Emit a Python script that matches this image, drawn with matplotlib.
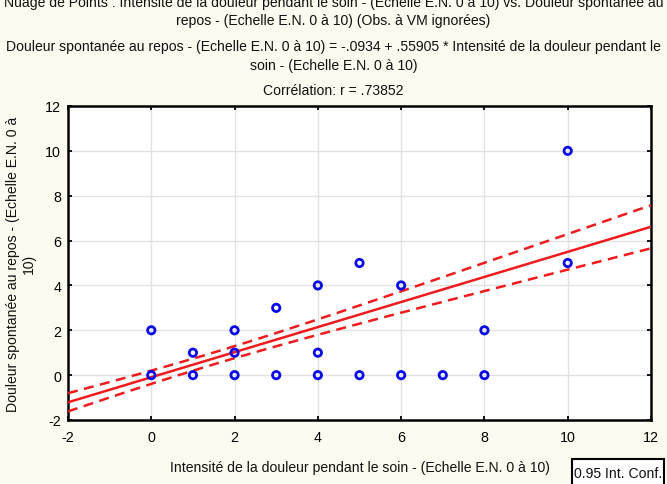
import numpy as np
import matplotlib
matplotlib.use("Agg")
import matplotlib.pyplot as plt
from matplotlib.patches import Rectangle

# ---- data ----
x_vals = [0, 0, 1, 1, 2, 2, 2, 3, 3, 4, 4, 4, 5, 5, 6, 6, 7, 8, 8, 10, 10]
y_vals = [2, 0, 1, 0, 2, 1, 0, 3, 0, 4, 1, 0, 5, 0, 4, 0, 0, 2, 0, 10, 5]

intercept = -0.0934
slope = 0.55905
# summary statistics for the 95% confidence band (estimated)
n_obs = 140
mean_x = 1.5
sxx = 1262.0
s_resid = 1.58
t_crit = 1.977

x_ticks = [-2, 0, 2, 4, 6, 8, 10, 12]
y_ticks = [-2, 0, 2, 4, 6, 8, 10, 12]

title_lines = [
    "Nuage de Points : Intensité de la douleur pendant le soin - (Echelle E.N. 0 à 10) vs. Douleur spontanée au",
    "repos - (Echelle E.N. 0 à 10) (Obs. à VM ignorées)",
    "Douleur spontanée au repos - (Echelle E.N. 0 à 10) = -.0934 + .55905 * Intensité de la douleur pendant le",
    "soin - (Echelle E.N. 0 à 10)",
    "Corrélation: r = .73852",
]
x_label = "Intensité de la douleur pendant le soin - (Echelle E.N. 0 à 10)"
y_label = "Douleur spontanée au repos - (Echelle E.N. 0 à\n10)"
legend_text = "0.95 Int. Conf."

# ---- figure ----
W, H = 667, 485
plt.rcParams['font.family'] = ['Liberation Sans', 'DejaVu Sans']
plt.rcParams['axes.unicode_minus'] = False
fig = plt.figure(figsize=(W / 100, H / 100), dpi=100)
bg = "#FDFBEF"
fig.patch.set_facecolor(bg)

left, right, top, bottom = 68, 651, 107, 421
ax = fig.add_axes([left / W, 1 - bottom / H, (right - left) / W, (bottom - top) / H])
ax.set_facecolor("white")
ax.set_xlim(-2, 12)
ax.set_ylim(-2, 12)
ax.set_xticks(x_ticks)
ax.set_yticks(y_ticks)
ax.grid(True, color="#E2E2E2", linewidth=1)
ax.set_axisbelow(True)
for s in ax.spines.values():
    s.set_linewidth(1.8)
    s.set_color("black")
ax.tick_params(axis="both", direction="in", length=3, width=1.3, labelsize=10.3,
               colors="black", top=True, right=True)
ax.tick_params(axis="x", pad=7)
ax.tick_params(axis="y", pad=5)

xx = np.linspace(-2, 12, 200)
yy = intercept + slope * xx
half = t_crit * s_resid * np.sqrt(1.0 / n_obs + (xx - mean_x) ** 2 / sxx)
red = "#EE1C1C"
ax.plot(xx, yy, color=red, linewidth=1.8, zorder=3)
ax.plot(xx, yy + half, color=red, linewidth=1.8, dashes=(4, 2.6), zorder=3)
ax.plot(xx, yy - half, color=red, linewidth=1.8, dashes=(4, 2.6), zorder=3)

ax.scatter(x_vals, y_vals, s=28, facecolors="none", edgecolors="#0A0AE6",
           linewidths=2.0, zorder=4, clip_on=False)

# titles
fs = 10.1
ys = [3, 21, 47, 66, 91]
for txt, yp in zip(title_lines, ys):
    fig.text(0.5, 1 - yp / H, txt, ha="center", va="center", fontsize=fs, color="#111111")

fig.text(360 / W, 1 - 468 / H, x_label, ha="center", va="center", fontsize=fs, color="#111111")
fig.text(21 / W, 1 - 264 / H, y_label, ha="center", va="center", rotation=90,
         fontsize=fs, color="#111111", linespacing=1.1)

# legend box
fig.patches.append(Rectangle((572 / W, -0.02), (664 - 572) / W, (1 - 460 / H) + 0.02,
                             transform=fig.transFigure, facecolor="white",
                             edgecolor="black", linewidth=1.5))
fig.text(618 / W, 1 - 474 / H, legend_text, ha="center", va="center", fontsize=fs,
         color="#111111")

fig.savefig("out.png", dpi=100, facecolor=bg)
